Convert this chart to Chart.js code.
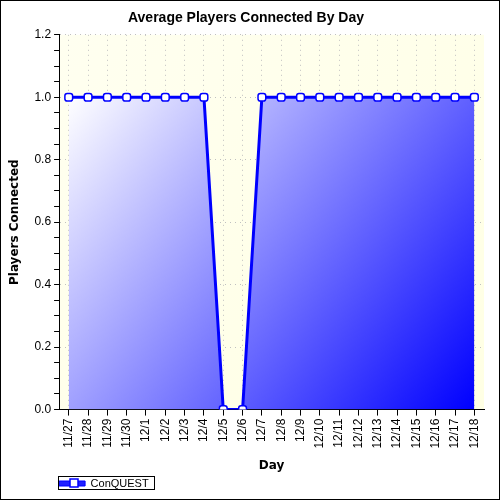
<!DOCTYPE html>
<html>
<head>
<meta charset="utf-8">
<script src="https://cdn.jsdelivr.net/npm/chart.js@4"></script>
<style>
  html, body { margin: 0; padding: 0; background: #fff; }
  #wrap { width: 498px; height: 498px; border: 1px solid #000; }
</style>
</head>
<body>
<div id="wrap"><canvas id="chart" width="498" height="498"></canvas></div>
<script>
const days = ['11/27', '11/28', '11/29', '11/30', '12/1', '12/2', '12/3', '12/4', '12/5', '12/6', '12/7',
  '12/8', '12/9', '12/10', '12/11', '12/12', '12/13', '12/14', '12/15', '12/16', '12/17', '12/18'];
const players = [1, 1, 1, 1, 1, 1, 1, 1, 0, 0, 1, 1, 1, 1, 1, 1, 1, 1, 1, 1, 1, 1];
const seriesName = 'ConQUEST';

// yellow plot background
const plotBg = {
  id: 'plotBg',
  beforeDraw(chart) {
    const a = chart.chartArea, ctx = chart.ctx;
    const g = ctx.createLinearGradient(a.left, a.top, a.right, a.bottom);
    g.addColorStop(0, '#fffff0');
    g.addColorStop(1, '#ffffe4');
    ctx.save();
    ctx.fillStyle = g;
    ctx.fillRect(a.left, a.top, a.right - a.left, a.bottom - a.top);
    ctx.restore();
  }
};

// legend sits under the plot's left edge, with a box round it
const legendBox = {
  id: 'legendBox',
  afterLayout(chart) {
    const l = chart.legend;
    const dx = chart.chartArea.left - l.left - 2;
    l.left += dx;
    l.right += dx;
  },
  afterDraw(chart) {
    const l = chart.legend, ctx = chart.ctx;
    const hb = l.legendHitBoxes[0];
    ctx.save();
    ctx.strokeStyle = '#000';
    ctx.lineWidth = 1;
    ctx.strokeRect(Math.round(chart.chartArea.left) - 0.5, Math.round(l.top) + 0.5, 96, 13);
    // marker on the legend line
    if (hb) {
      const cx = Math.round(chart.chartArea.left) + 15;
      const cy = Math.round(l.top) + 7;
      ctx.fillStyle = '#fff';
      ctx.strokeStyle = '#0000ff';
      ctx.lineWidth = 1.5;
      ctx.fillRect(cx - 4, cy - 4, 8, 8);
      ctx.strokeRect(cx - 4, cy - 4, 8, 8);
    }
    ctx.restore();
  }
};

function areaFill(context) {
  const a = context.chart.chartArea;
  if (!a) return 'rgba(0,0,255,0.5)';
  const ctx = context.chart.ctx;
  const g = ctx.createLinearGradient(a.left + 10, a.top + 62, a.right - 10, a.bottom);
  g.addColorStop(0, '#ffffff');
  g.addColorStop(1, '#0000ff');
  return g;
}

const isMajor = (v) => Math.round(v * 20) % 4 === 0;

new Chart(document.getElementById('chart'), {
  type: 'line',
  data: {
    labels: days,
    datasets: [{
      label: seriesName,
      data: players,
      borderColor: '#0000ff',
      borderWidth: 3,
      backgroundColor: areaFill,
      fill: 'origin',
      tension: 0,
      pointStyle: 'rectRounded',
      pointRadius: 4.5,
      pointBackgroundColor: '#ffffff',
      pointBorderColor: '#0000ff',
      pointBorderWidth: 1.5
    }]
  },
  options: {
    responsive: false,
    animation: false,
    devicePixelRatio: 1,
    layout: { padding: { left: 7, right: 15, top: 0, bottom: 0 } },
    plugins: {
      title: {
        display: true,
        text: 'Average Players Connected By Day',
        color: '#000',
        font: { family: 'Liberation Sans', size: 14, weight: 'bold' },
        padding: { top: 9, bottom: 8 }
      },
      legend: {
        position: 'bottom',
        align: 'start',
        labels: {
          color: '#000',
          font: { family: 'Liberation Sans', size: 11 },
          boxWidth: 26,
          boxHeight: 5,
          padding: 2,
          generateLabels: (chart) => [{
            text: seriesName,
            fillStyle: '#2020ff',
            strokeStyle: '#0000ff',
            lineWidth: 1,
            datasetIndex: 0
          }]
        }
      },
      tooltip: { enabled: false }
    },
    scales: {
      x: {
        offset: true,
        border: { color: '#000', width: 1, dash: [1, 4] },
        grid: {
          color: '#c0c0c0',
          offset: false,
          tickColor: '#000',
          tickLength: 6,
          tickBorderDash: []
        },
        ticks: {
          color: '#000',
          font: { family: 'Liberation Sans', size: 12 },
          minRotation: 90,
          maxRotation: 90,
          autoSkip: false,
          padding: 3
        },
        title: {
          display: true,
          text: 'Day',
          color: '#000',
          font: { family: 'DejaVu Sans', size: 12, weight: 'bold' },
          padding: { top: 7, bottom: 3 }
        }
      },
      y: {
        min: 0,
        max: 1.2,
        border: { color: '#000', width: 1, dash: [1, 4] },
        grid: {
          color: (c) => isMajor(c.tick.value) ? '#c0c0c0' : 'rgba(0,0,0,0)',
          tickColor: '#000',
          tickLength: 5,
          tickBorderDash: []
        },
        ticks: {
          stepSize: 0.05,
          autoSkip: false,
          color: '#000',
          font: { family: 'Liberation Sans', size: 12 },
          padding: 3,
          callback: (v) => isMajor(v) ? (Math.round(v * 10) / 10).toFixed(1) : ''
        },
        title: {
          display: true,
          text: 'Players Connected',
          color: '#000',
          font: { family: 'DejaVu Sans', size: 12, weight: 'bold' },
          padding: { top: 0, bottom: 9 }
        }
      }
    }
  },
  plugins: [plotBg, legendBox]
});
</script>
</body>
</html>
